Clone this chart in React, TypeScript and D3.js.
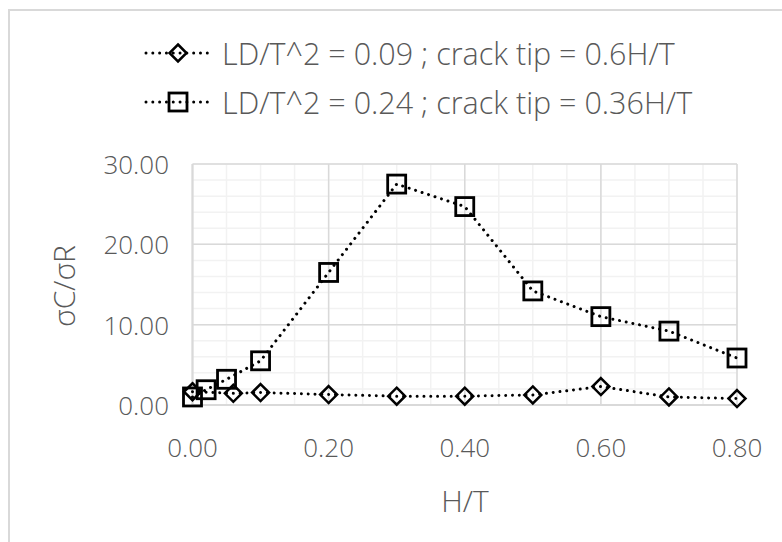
import React from "react";
import * as d3 from "d3";

const seriesNames = [
  "LD/T^2 = 0.09 ; crack tip = 0.6H/T",
  "LD/T^2 = 0.24 ; crack tip = 0.36H/T",
];
const xDiamond = [0, 0.06, 0.1, 0.2, 0.3, 0.4, 0.5, 0.6, 0.7, 0.8];
const yDiamond = [1.65, 1.45, 1.55, 1.3, 1.1, 1.1, 1.25, 2.3, 1.0, 0.8];
const xSquare = [0, 0.02, 0.05, 0.1, 0.2, 0.3, 0.4, 0.5, 0.6, 0.7, 0.8];
const ySquare = [1.0, 1.9, 3.2, 5.5, 16.5, 27.5, 24.7, 14.2, 11.0, 9.2, 5.85];
const xTicks = [0, 0.2, 0.4, 0.6, 0.8];
const yTicks = [0, 10, 20, 30];
const xTitle = "H/T";
const yTitle = "σC/σR";

const FONT = "'Open Sans', sans-serif";
const TXT = "#595959";

export default function App() {
  const W = 782, H = 542;
  const left = 192.5, right = 737, top = 164, bottom = 405;
  const x = d3.scaleLinear().domain([0, 0.8]).range([left, right]);
  const y = d3.scaleLinear().domain([0, 30]).range([bottom, top]);
  const xMinor = d3.range(0, 0.8001, 0.05);
  const yMinor = d3.range(0, 30.001, 2);
  const line = d3.line<[number, number]>().x(d => x(d[0])).y(d => y(d[1]));
  const s1 = xDiamond.map((v, i) => [v, yDiamond[i]] as [number, number]);
  const s2 = xSquare.map((v, i) => [v, ySquare[i]] as [number, number]);
  const dotted = { stroke: "#000", strokeWidth: 3, strokeDasharray: "0.01 6.8", strokeLinecap: "round" as const, fill: "none" };
  const diamond = (cx: number, cy: number, k: string) => (
    <path key={k} d={`M${cx},${cy - 8.5}L${cx + 8.5},${cy}L${cx},${cy + 8.5}L${cx - 8.5},${cy}Z`} fill="none" stroke="#000" strokeWidth={2.5} />
  );
  const square = (cx: number, cy: number, k: string) => (
    <rect key={k} x={cx - 9} y={cy - 9} width={18} height={18} fill="none" stroke="#000" strokeWidth={2.8} />
  );
  const txt = (size: number) => ({ fontFamily: FONT, fontWeight: 300, fontSize: size, fill: TXT, dominantBaseline: "central" as const });
  return (
    <svg width={W} height={H} style={{ position: "absolute", left: 0, top: 0, background: "#fff" }}>
      <rect x={0} y={0} width={W} height={H} fill="#fff" />
      <rect x={9} y={10} width={W + 20} height={H + 20} fill="none" stroke="#d9d9d9" strokeWidth={2} />
      {xMinor.map((v, i) => (
        <line key={"xm" + i} x1={x(v)} x2={x(v)} y1={top} y2={bottom} stroke="#f2f2f2" strokeWidth={1.5} />
      ))}
      {yMinor.map((v, i) => (
        <line key={"ym" + i} x1={left} x2={right} y1={y(v)} y2={y(v)} stroke="#f2f2f2" strokeWidth={1.5} />
      ))}
      {xTicks.map((v, i) => (
        <line key={"xg" + i} x1={x(v)} x2={x(v)} y1={top} y2={bottom} stroke="#d9d9d9" strokeWidth={1.5} />
      ))}
      {yTicks.map((v, i) => (
        <line key={"yg" + i} x1={left} x2={right} y1={y(v)} y2={y(v)} stroke="#d9d9d9" strokeWidth={1.5} />
      ))}
      <line x1={left} x2={left} y1={top} y2={bottom} stroke="#d9d9d9" strokeWidth={2} />
      <line x1={left} x2={right} y1={bottom} y2={bottom} stroke="#d9d9d9" strokeWidth={2} />
      {xTicks.map((v, i) => (
        <text key={"xt" + i} x={x(v)} y={447} textAnchor="middle" {...txt(26)}>
          {v.toFixed(2)}
        </text>
      ))}
      {yTicks.map((v, i) => (
        <text key={"yt" + i} x={169} y={y(v)} textAnchor="end" {...txt(26)}>
          {v.toFixed(2)}
        </text>
      ))}
      <text x={465} y={500} textAnchor="middle" {...txt(30)}>{xTitle}</text>
      <text transform={`translate(63,286) rotate(-90)`} textAnchor="middle" {...txt(30)}>{yTitle}</text>
      <path d={line(s1) || ""} {...dotted} />
      <path d={line(s2) || ""} {...dotted} />
      {s1.map((d, i) => diamond(x(d[0]), y(d[1]), "d" + i))}
      {s2.map((d, i) => square(x(d[0]), y(d[1]), "s" + i))}
      {seriesNames.map((name, i) => {
        const ly = 53 + i * 49;
        return (
          <g key={"lg" + i}>
            <line x1={146} x2={210} y1={ly} y2={ly} {...dotted} />
            {i === 0 ? diamond(178, ly, "ld") : square(178, ly, "ls")}
            <text x={222} y={ly} {...txt(30.5)}>{name}</text>
          </g>
        );
      })}
    </svg>
  );
}
